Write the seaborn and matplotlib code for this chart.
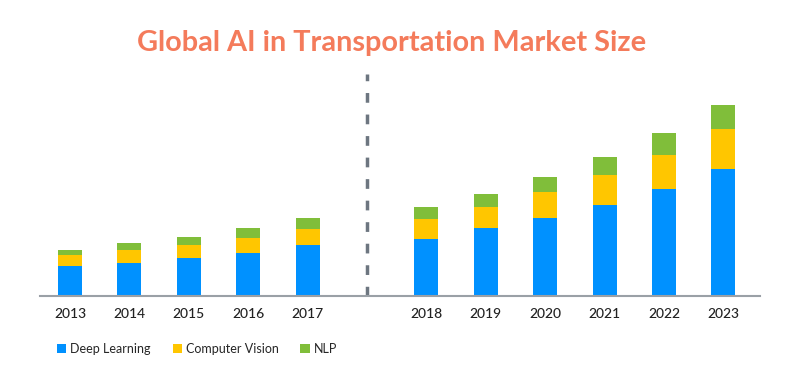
import matplotlib
matplotlib.use("Agg")
import matplotlib.pyplot as plt
import seaborn as sns
import pandas as pd
from matplotlib.patches import Patch

years = ["2013", "2014", "2015", "2016", "2017",
         "2018", "2019", "2020", "2021", "2022", "2023"]
deep_learning = [30, 33.3, 38.3, 42.7, 51, 57.3, 67.7, 78.3, 90.7, 107.3, 127.3]
computer_vision = [10.7, 12.7, 12.7, 15.6, 15.7, 19.7, 21, 25.7, 30, 33.4, 39.4]
nlp = [5.3, 6.7, 7.7, 9.4, 11.6, 12, 13.6, 15, 18.3, 22.3, 24.3]
series_names = ["Deep Learning", "Computer Vision", "NLP"]
colors = ["#0091FF", "#FFC600", "#80BE3A"]
gap_label = " "

sns.set_theme(style="white")
plt.rcParams["font.family"] = ["Lato", "DejaVu Sans"]

df = pd.DataFrame({"year": years, "dl": deep_learning,
                   "cv": computer_vision, "nlp": nlp})
df["c1"] = df["dl"]
df["c2"] = df["dl"] + df["cv"]
df["c3"] = df["c2"] + df["nlp"]

order = years[:5] + [gap_label] + years[5:]

fig = plt.figure(figsize=(8, 3.71), dpi=100)
ax = fig.add_axes([0.05, 75 / 371, 0.9, 222 / 371])

for col, color in zip(["c3", "c2", "c1"], colors[::-1]):
    sns.barplot(data=df, x="year", y=col, order=order, color=color,
                width=0.404, saturation=1, ax=ax, errorbar=None,
                linewidth=0)

ax.set_xlim(-0.505, 11.616)
ax.set_ylim(0, 222)
ax.set_xlabel("")
ax.set_ylabel("")
ax.set_yticks([])
for s in ["top", "right", "left"]:
    ax.spines[s].set_visible(False)
ax.spines["bottom"].set_color("#9AA0A6")
ax.spines["bottom"].set_linewidth(1.5)
ax.tick_params(axis="x", length=0, pad=9, labelsize=10, colors="#222222")
for lbl in ax.get_xticklabels():
    lbl.set_fontweight("medium")

gap_pos = order.index(gap_label)
ax.axvline(gap_pos, ymin=0, ymax=1, color="#6D7680", linewidth=2.5,
           linestyle=(0, (2.8, 3.4)))

fig.text(0.49, 1 - 43 / 371, "Global AI in Transportation Market Size",
         ha="center", va="center", fontsize=20.8, fontweight="bold",
         color="#F47B5B")

handles = [Patch(facecolor=c, edgecolor="none") for c in colors]
fig.legend(handles, series_names, loc="center left",
           bbox_to_anchor=(57 / 800, 1 - 349 / 371), ncol=3, frameon=False,
           fontsize=9, handlelength=0.75, handleheight=0.75,
           handletextpad=0.3, columnspacing=1.75, borderpad=0,
           borderaxespad=0)

fig.savefig("out.png", dpi=100)
